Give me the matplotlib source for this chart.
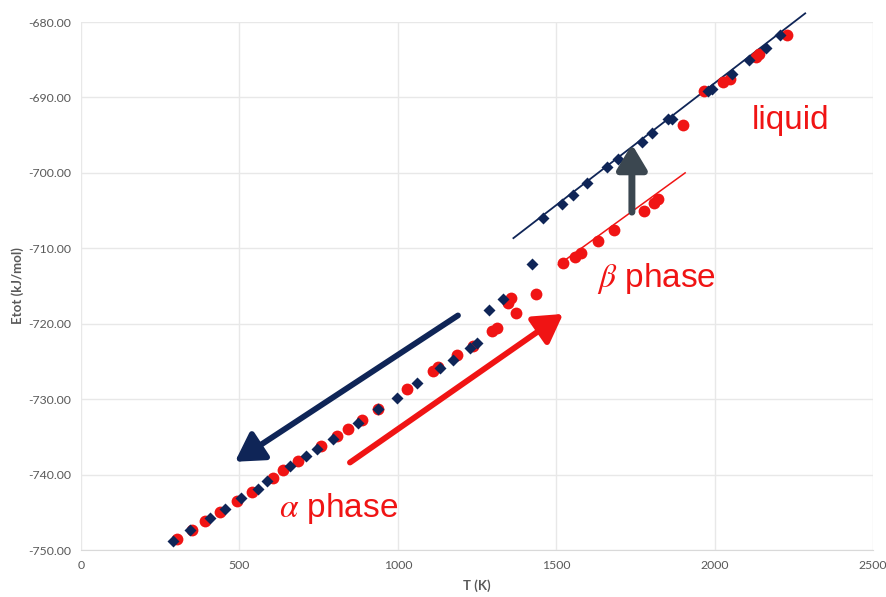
import numpy as np
import matplotlib
matplotlib.use("Agg")
import matplotlib.pyplot as plt
from matplotlib.ticker import FuncFormatter, MultipleLocator

plt.rcParams['mathtext.fontset'] = 'stix'

# heating run (red circles): alpha phase, beta phase, liquid
heat_T = [303, 350, 391, 440, 492, 539, 607, 639, 684, 757, 807, 844, 886, 937,
          1030, 1111, 1128, 1186, 1239, 1297, 1312, 1349, 1356, 1373, 1436,
          1521, 1558, 1578, 1632, 1682, 1776, 1808, 1822,
          1901, 1967, 2028, 2049, 2131, 2140, 2228]
heat_E = [-748.5, -747.3, -746.2, -744.9, -743.5, -742.3, -740.4, -739.4, -738.2,
          -736.2, -734.9, -734.0, -732.8, -731.3, -728.7, -726.3, -725.8, -724.2,
          -723.0, -721.0, -720.6, -717.3, -716.6, -718.6, -716.0,
          -712.0, -711.2, -710.6, -709.0, -707.6, -705.1, -704.0, -703.4,
          -693.6, -689.1, -687.9, -687.6, -684.7, -684.3, -681.7]

# cooling run (navy diamonds)
cool_T = [290, 344, 407, 456, 505, 559, 586, 660, 710, 744, 794, 873, 938, 997,
          1060, 1133, 1174, 1228, 1250, 1289, 1331, 1423,
          1459, 1518, 1552, 1596, 1659, 1696, 1770, 1802, 1854, 1865,
          1979, 1992, 2054, 2108, 2163, 2206]
cool_E = [-748.8, -747.4, -745.7, -744.5, -743.1, -741.9, -740.9, -738.9, -737.6,
          -736.6, -735.3, -733.1, -731.3, -729.8, -727.8, -725.9, -724.8, -723.2,
          -722.5, -718.2, -716.7, -712.1,
          -706.0, -704.1, -702.9, -701.4, -699.2, -698.1, -695.9, -694.7, -692.9,
          -692.8, -689.1, -688.9, -686.9, -685.0, -683.4, -681.7]

# linear trend lines
liq_fit_T = [1365, 2286]
liq_fit_E = [-708.65, -678.85]
beta_fit_T = [1507, 1907]
beta_fit_E = [-712.2, -700.0]

navy = '#0f2557'
red = '#f01414'
grey = '#595959'

fig = plt.figure(figsize=(8.87, 5.97), dpi=100)
ax = fig.add_axes([0.0913, 0.0787, 0.8929, 0.8844])

ax.plot(heat_T, heat_E, 'o', ms=8.5, color=red, mec='none', zorder=3)
ax.plot(cool_T, cool_E, 'D', ms=6.5, color=navy, mec='none', zorder=4)
ax.plot(liq_fit_T, liq_fit_E, '-', color=navy, lw=1.3, zorder=2, clip_on=False)
ax.plot(beta_fit_T, beta_fit_E, '-', color=red, lw=1.1, zorder=2)

# cooling / heating arrows
head = '-|>,head_length=0.85,head_width=0.5'
ax.annotate('', xy=(486, -738.3), xytext=(1190, -718.9),
            arrowprops=dict(arrowstyle=head, mutation_scale=20, lw=4.2,
                            color=navy, shrinkA=0, shrinkB=0), zorder=5)
ax.annotate('', xy=(1522, -718.7), xytext=(849, -738.4),
            arrowprops=dict(arrowstyle=head, mutation_scale=20, lw=4.2,
                            color=red, shrinkA=0, shrinkB=0), zorder=5)
ax.annotate('', xy=(1739, -696.2), xytext=(1739, -705.2),
            arrowprops=dict(arrowstyle='-|>,head_length=0.75,head_width=0.45',
                            mutation_scale=20, lw=5, color='#3b4750',
                            shrinkA=0, shrinkB=0), zorder=5)

ax.text(2118, -694.2, 'liquid', color=red, fontsize=24,
        family='Liberation Sans', va='baseline')
ax.text(1629, -715.1, r'$\beta$ phase', color=red, fontsize=24,
        family='Liberation Sans', va='baseline')
ax.text(625, -745.6, r'$\alpha$ phase', color=red, fontsize=24,
        family='Liberation Sans', va='baseline')

ax.set_xlim(0, 2500)
ax.set_ylim(-750, -680)
ax.xaxis.set_major_locator(MultipleLocator(500))
ax.yaxis.set_major_locator(MultipleLocator(10))
ax.yaxis.set_major_formatter(FuncFormatter(lambda v, p: '%.2f' % v))
ax.grid(True, color='#e8e8e8', lw=1)
ax.set_axisbelow(True)
for s in ['top', 'right', 'left']:
    ax.spines[s].set_visible(False)
ax.spines['bottom'].set_color('#d9d9d9')
ax.tick_params(length=0, labelsize=8.8, colors=grey, pad=7)
for lab in ax.get_xticklabels() + ax.get_yticklabels():
    lab.set_family('Lato')

ax.set_xlabel('T (K)', fontsize=9.5, fontweight='bold', color=grey,
              family='Lato', labelpad=6)
ax.set_ylabel('Etot (kJ/mol)', fontsize=9.5, fontweight='bold', color=grey,
              family='Lato', labelpad=3)

fig.savefig('out.png', dpi=100)
